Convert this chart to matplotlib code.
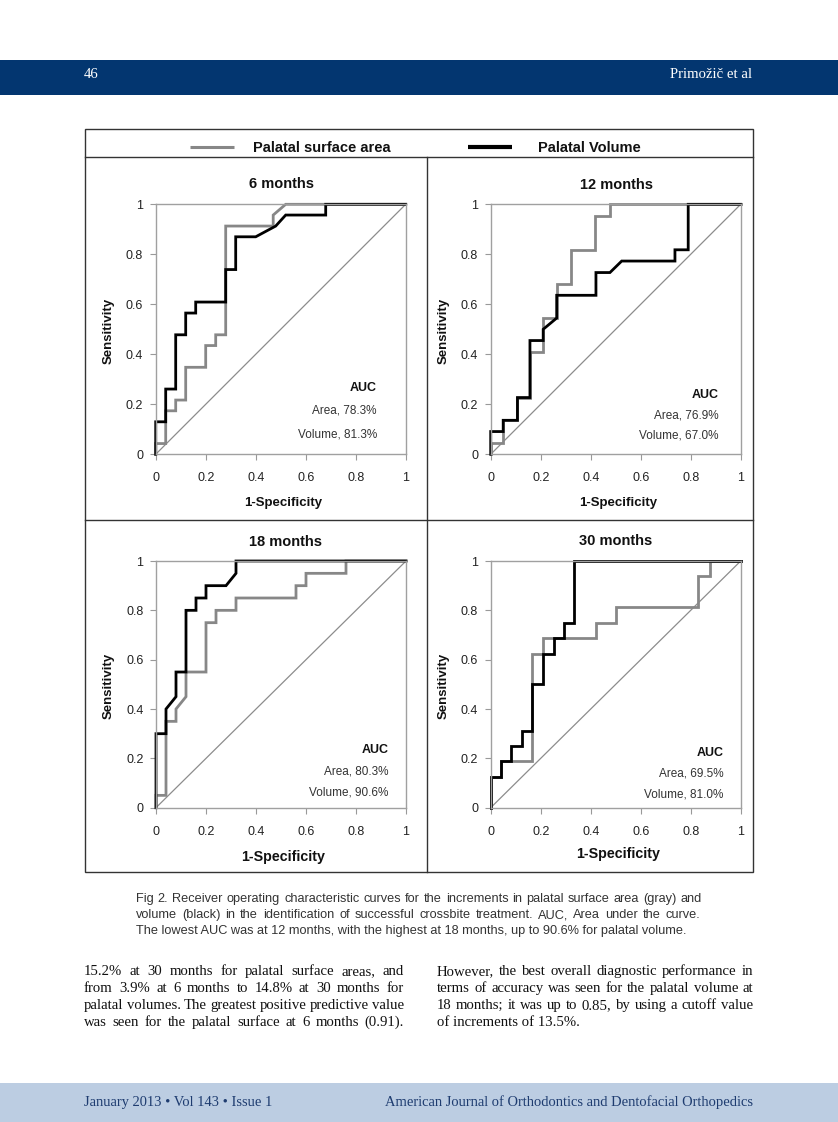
import matplotlib
matplotlib.use('Agg')
import matplotlib.pyplot as plt
from matplotlib.patches import Rectangle

W, H = 838, 1122

# ---------------- data ----------------
panel_titles = ['6 months', '12 months', '18 months', '30 months']
auc_area = ['78.3%', '76.9%', '80.3%', '69.5%']
auc_volume = ['81.3%', '67.0%', '90.6%', '81.0%']
tick_values = [0, 0.2, 0.4, 0.6, 0.8, 1]
tick_labels = ['0', '0.2', '0.4', '0.6', '0.8', '1']
legend_labels = ['Palatal surface area', 'Palatal Volume']

# 6 months
area_6_x = [0, 0, 0.04, 0.04, 0.08, 0.08, 0.12, 0.12, 0.20, 0.20, 0.24, 0.24, 0.28, 0.28, 0.47, 0.47, 0.52, 1.0]
area_6_y = [0, 0.043, 0.043, 0.174, 0.174, 0.217, 0.217, 0.348, 0.348, 0.435, 0.435, 0.478, 0.478, 0.913, 0.913, 0.957, 1.0, 1.0]
vol_6_x = [0, 0, 0.04, 0.04, 0.08, 0.08, 0.12, 0.12, 0.16, 0.16, 0.28, 0.28, 0.32, 0.32, 0.40, 0.48, 0.52, 0.68, 0.68, 1.0]
vol_6_y = [0, 0.130, 0.130, 0.261, 0.261, 0.478, 0.478, 0.565, 0.565, 0.609, 0.609, 0.739, 0.739, 0.870, 0.870, 0.913, 0.957, 0.957, 1.0, 1.0]

# 12 months
area_12_x = [0, 0, 0.05, 0.05, 0.107, 0.107, 0.157, 0.157, 0.21, 0.21, 0.264, 0.264, 0.32, 0.32, 0.417, 0.417, 0.477, 0.477, 1.0]
area_12_y = [0, 0.045, 0.045, 0.136, 0.136, 0.227, 0.227, 0.409, 0.409, 0.545, 0.545, 0.682, 0.682, 0.818, 0.818, 0.955, 0.955, 1.0, 1.0]
vol_12_x = [0, 0, 0.05, 0.05, 0.107, 0.107, 0.157, 0.157, 0.21, 0.21, 0.264, 0.264, 0.421, 0.421, 0.477, 0.524, 0.737, 0.737, 0.79, 0.79, 1.0]
vol_12_y = [0, 0.091, 0.091, 0.136, 0.136, 0.227, 0.227, 0.455, 0.455, 0.50, 0.545, 0.636, 0.636, 0.727, 0.727, 0.773, 0.773, 0.818, 0.818, 1.0, 1.0]

# 18 months
area_18_x = [0, 0, 0.04, 0.04, 0.08, 0.08, 0.12, 0.12, 0.20, 0.20, 0.24, 0.24, 0.32, 0.32, 0.56, 0.56, 0.60, 0.60, 0.76, 0.76, 1.0]
area_18_y = [0, 0.05, 0.05, 0.35, 0.35, 0.40, 0.45, 0.55, 0.55, 0.75, 0.75, 0.80, 0.80, 0.85, 0.85, 0.90, 0.90, 0.95, 0.95, 1.0, 1.0]
vol_18_x = [0, 0, 0.04, 0.04, 0.08, 0.08, 0.12, 0.12, 0.16, 0.16, 0.20, 0.20, 0.28, 0.32, 0.32, 1.0]
vol_18_y = [0, 0.30, 0.30, 0.40, 0.45, 0.55, 0.55, 0.80, 0.80, 0.85, 0.85, 0.90, 0.90, 0.95, 1.0, 1.0]

# 30 months
area_30_x = [0, 0, 0.04, 0.04, 0.164, 0.164, 0.21, 0.21, 0.42, 0.42, 0.50, 0.50, 0.828, 0.828, 0.877, 0.877, 1.0]
area_30_y = [0, 0.125, 0.125, 0.1875, 0.1875, 0.625, 0.625, 0.6875, 0.6875, 0.75, 0.75, 0.8125, 0.8125, 0.9375, 0.9375, 1.0, 1.0]
vol_30_x = [0, 0, 0.04, 0.04, 0.08, 0.08, 0.124, 0.124, 0.164, 0.164, 0.21, 0.21, 0.253, 0.253, 0.295, 0.295, 0.335, 0.335, 1.0]
vol_30_y = [0, 0.125, 0.125, 0.1875, 0.1875, 0.25, 0.25, 0.3125, 0.3125, 0.5, 0.5, 0.625, 0.625, 0.6875, 0.6875, 0.75, 0.75, 1.0, 1.0]

area_curves = [(area_6_x, area_6_y), (area_12_x, area_12_y), (area_18_x, area_18_y), (area_30_x, area_30_y)]
vol_curves = [(vol_6_x, vol_6_y), (vol_12_x, vol_12_y), (vol_18_x, vol_18_y), (vol_30_x, vol_30_y)]

caption_lines = [
    "Fig 2.  Receiver operating characteristic curves for the increments in palatal surface area (gray) and",
    "volume (black) in the identification of successful crossbite treatment. AUC, Area under the curve.",
    "The lowest AUC was at 12 months, with the highest at 18 months, up to 90.6% for palatal volume.",
]
left_col = [
    "15.2% at 30 months for palatal surface areas, and",
    "from 3.9% at 6 months to 14.8% at 30 months for",
    "palatal volumes. The greatest positive predictive value",
    "was seen for the palatal surface at 6 months (0.91).",
]
right_col = [
    "However, the best overall diagnostic performance in",
    "terms of accuracy was seen for the palatal volume at",
    "18 months; it was up to 0.85, by using a cutoff value",
    "of increments of 13.5%.",
]
header_left = "46"
header_right = "Primožič et al"
footer_left = "January 2013 \u2022 Vol 143 \u2022 Issue 1"
footer_right = "American Journal of Orthodontics and Dentofacial Orthopedics"

# ---------------- figure ----------------
plt.rcParams['font.family'] = ['Liberation Sans', 'DejaVu Sans']
fig = plt.figure(figsize=(W / 100, H / 100), dpi=100)
bg = fig.add_axes([0, 0, 1, 1])
bg.set_xlim(0, W)
bg.set_ylim(H, 0)
bg.axis('off')
renderer = fig.canvas.get_renderer()

SERIF = ['Liberation Serif', 'DejaVu Serif']


def width_of(t):
    return t.get_window_extent(renderer).width


def natural_width(s, size, **kw):
    t = bg.text(0, 0, s, fontsize=size, **kw)
    w = width_of(t)
    t.remove()
    return w


def justify(s, x0, x1, y, size, **kw):
    words = s.split()
    ts = [bg.text(0, y, w, fontsize=size, va='baseline', **kw) for w in words]
    ws = [width_of(t) for t in ts]
    gap = (x1 - x0 - sum(ws)) / (len(ws) - 1)
    x = x0
    for t, w in zip(ts, ws):
        t.set_x(x)
        x += w + gap


# header band
bg.add_patch(Rectangle((0, 60), W, 35, color='#033670', lw=0))
hs = 10 * 82 / natural_width(header_right, 10, family=SERIF)
bg.text(84, 78, header_left, fontsize=hs, family=SERIF, color='white', va='baseline')
bg.text(752, 78, header_right, fontsize=hs, family=SERIF, color='white', va='baseline', ha='right')

# footer band
bg.add_patch(Rectangle((0, 1083), W, 39, color='#bccde2', lw=0))
fs = 10 * 370 / natural_width(footer_right, 10, family=SERIF)
bg.text(84, 1106, footer_left, fontsize=fs, family=SERIF, color='#1e3c70', va='baseline')
bg.text(753, 1106, footer_right, fontsize=fs, family=SERIF, color='#1e3c70', va='baseline', ha='right')

# figure frame
fc = '#333333'
bg.add_patch(Rectangle((85.3, 129.3), 753 - 85.3, 871.7 - 129.3, fill=False, ec=fc, lw=1.0))
bg.plot([85.3, 753], [156.5, 156.5], color=fc, lw=1.0)
bg.plot([85.3, 753], [520, 520], color=fc, lw=1.0)
bg.plot([426.7, 426.7], [156.5, 871.7], color=fc, lw=1.0)

# legend
GRAY = '#878787'
bg.plot([190, 234], [147, 147], color=GRAY, lw=2.2, solid_capstyle='butt')
bg.plot([468, 512], [147, 147], color='black', lw=3.0, solid_capstyle='butt')
bg.text(253, 147.5, legend_labels[0], fontsize=10.5, fontweight='bold', va='center', color='#111111')
bg.text(538, 147.5, legend_labels[1], fontsize=10.5, fontweight='bold', va='center', color='#111111')

# panels: (left, right, top, bottom) in pixels
boxes = [(155.7, 405.7, 204.3, 454.3), (490.7, 740.7, 204.3, 454.3),
         (156.0, 406.0, 561.0, 807.7), (490.7, 740.7, 561.0, 807.7)]
title_y = [184, 185, 542, 541]
title_x = [281, 616, 285, 616]
xlab_y = [503, 503, 857, 854]
xlab_size = [9.5, 9.5, 10.3, 10.3]
auc_pos = [(0.885, 0.265, 0.177, 0.081), (0.91, 0.237, 0.157, 0.077),
           (0.93, 0.234, 0.145, 0.063), (0.93, 0.222, 0.140, 0.055)]

for i, (L, R, T, B) in enumerate(boxes):
    ax = fig.add_axes([L / W, 1 - B / H, (R - L) / W, (B - T) / H])
    ax.set_facecolor('none')
    ax.set_xlim(0, 1)
    ax.set_ylim(0, 1)
    for sp in ax.spines.values():
        sp.set_color('#a0a0a0')
        sp.set_linewidth(1.0)
    ax.plot([0, 1], [0, 1], color='#8c8c8c', lw=0.9, clip_on=False)
    ax.plot(area_curves[i][0], area_curves[i][1], color=GRAY, lw=2.0, clip_on=False, solid_joinstyle='miter')
    ax.plot(vol_curves[i][0], vol_curves[i][1], color='black', lw=2.0, clip_on=False, solid_joinstyle='miter')
    ax.set_xticks(tick_values)
    ax.set_xticklabels(tick_labels)
    ax.set_yticks(tick_values)
    ax.set_yticklabels(tick_labels)
    ax.tick_params(axis='both', direction='out', length=4, width=0.8, color='#999999',
                   labelsize=9, labelcolor='#222222')
    ax.tick_params(axis='x', pad=9)
    ax.tick_params(axis='y', pad=5)
    xr, ya, yb, yc = auc_pos[i]
    ax.text(xr, ya, 'AUC', fontsize=9, fontweight='bold', ha='right', va='center', color='#111111')
    ax.text(xr, yb, 'Area, ' + auc_area[i], fontsize=8.5, ha='right', va='center', color='#333333')
    ax.text(xr, yc, 'Volume, ' + auc_volume[i], fontsize=8.5, ha='right', va='center', color='#333333')

    bg.text(title_x[i], title_y[i], panel_titles[i], fontsize=10.5, fontweight='bold',
            ha='center', va='center', color='#111111')
    bg.text((L + R) / 2 + 2, xlab_y[i], '1-Specificity', fontsize=xlab_size[i], fontweight='bold',
            ha='center', va='center', color='#111111')
    bg.text(L - 47, (T + B) / 2 + 2, 'Sensitivity', fontsize=9.5, fontweight='bold',
            ha='center', va='center', rotation=90, color='#111111')

# caption
cs = 10 * 550 / natural_width(caption_lines[2], 10)
cap_y = [902, 918, 934]
justify(caption_lines[0], 136, 702, cap_y[0], cs, color='#333333')
justify(caption_lines[1], 136, 700, cap_y[1], cs, color='#333333')
bg.text(136, cap_y[2], caption_lines[2], fontsize=cs, va='baseline', color='#333333')

# body text
body_y = [975, 992, 1009, 1026]
targets = [(left_col[k], 404 - 84) for k in range(4)] + [(right_col[k], 753 - 437) for k in range(3)]
bs = min(10 * tw / natural_width(s, 10, family=SERIF) for s, tw in targets)
for k in range(4):
    justify(left_col[k], 84, 404, body_y[k], bs, family=SERIF, color='#111111')
for k in range(3):
    justify(right_col[k], 437, 753, body_y[k], bs, family=SERIF, color='#111111')
bg.text(437, body_y[3], right_col[3], fontsize=bs, family=SERIF, va='baseline', color='#111111')

fig.savefig('out.png', dpi=100)
